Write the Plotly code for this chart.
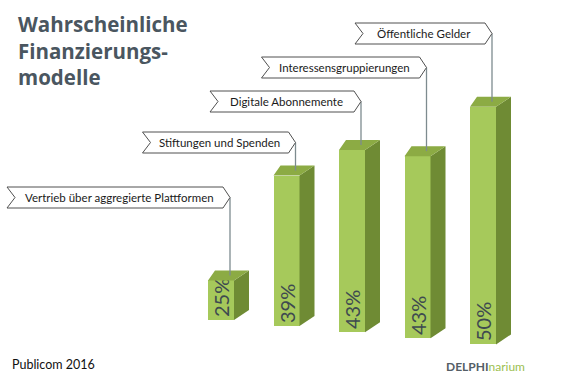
import plotly.graph_objects as go

# ---------------- data ----------------
categories = [
    "Vertrieb über aggregierte Plattformen",
    "Stiftungen und Spenden",
    "Digitale Abonnemente",
    "Interessensgruppierungen",
    "Öffentliche Gelder",
]
values = [25, 39, 43, 43, 50]
value_labels = ["25%", "39%", "43%", "43%", "50%"]
axis_min = 20
title_lines = ["Wahrscheinliche", "Finanzierungs-", "modelle"]
source_text = "Publicom 2016"

# ---------------- layout / style constants ----------------
W, H = 567, 378
X0_PX = 221.0      # pixel column of first category
SP_PX = 65.5       # pixels per category step
Y_PX = 320.0       # pixel row of axis_min for first category
PX_PER_PCT = 7.92  # vertical pixels per percent
TILT = 0.77        # perspective tilt of the floor (percent per category)
FRONT_W = 26 / SP_PX
DXR = 15 / SP_PX
DXL = 7 / SP_PX
DY = 10 / PX_PER_PCT
LEAD_OFF = 9 / SP_PX

FRONT = "#a6c95b"
SIDE = "#6f8b34"
TOP = "#8cab44"
TEXT_ON_BAR = "#3e4a50"

label_top_px = [187, 132, 91, 57, 23]
label_width_px = [223, 153, 151, 165, 137]
LABEL_H = 21
NOTCH = 8
POINT = 7


def px2x(p):
    return (p - X0_PX) / SP_PX


def py2y(p):
    return axis_min + (Y_PX - p) / PX_PER_PCT


idx = list(range(len(values)))
bases = [axis_min - TILT * i for i in idx]
tops = [v - TILT * i for v, i in zip(values, idx)]

fig = go.Figure()

# side faces and top faces
sx, sy, tx, ty = [], [], [], []
for i, b, t in zip(idx, bases, tops):
    xl = i - FRONT_W / 2
    xr = i + FRONT_W / 2
    sx += [xr, xr, xr + DXR, xr + DXR, xr, None]
    sy += [b, t, t + DY, b + DY, b, None]
    tx += [xl, xr, xr + DXR, xl + DXL, xl, None]
    ty += [t, t, t + DY, t + DY, t, None]

fig.add_trace(go.Scatter(x=sx, y=sy, mode="lines", fill="toself", fillcolor=SIDE,
                         line=dict(width=0, color=SIDE), hoverinfo="skip", showlegend=False))
fig.add_trace(go.Scatter(x=tx, y=ty, mode="lines", fill="toself", fillcolor=TOP,
                         line=dict(width=0, color=TOP), hoverinfo="skip", showlegend=False))

# front faces
fig.add_trace(go.Bar(
    x=idx, y=[v - axis_min for v in values], base=bases, width=FRONT_W,
    marker=dict(color=FRONT, line=dict(width=0)),
    text=value_labels, textposition="inside", insidetextanchor="start",
    textangle=-90, constraintext="none",
    textfont=dict(family="Lato", size=20, color=TEXT_ON_BAR),
    customdata=categories, hovertemplate="%{customdata}: %{text}<extra></extra>",
    showlegend=False, cliponaxis=False,
))

# leader lines + callout boxes
shapes = []
annotations = []
for i, t, ltop, lw, cat in zip(idx, tops, label_top_px, label_width_px, categories):
    lx = i + LEAD_OFF
    tip_px = X0_PX + SP_PX * lx
    mid_px = ltop + LABEL_H / 2
    fig.add_trace(go.Scatter(x=[lx, lx], y=[py2y(mid_px), t + DY * 0.5], mode="lines",
                             line=dict(color="#7d8b8f", width=1.3),
                             hoverinfo="skip", showlegend=False))
    L = tip_px - lw
    R = tip_px - POINT
    T = ltop
    B = ltop + LABEL_H
    pts = [(L, T), (R, T), (tip_px, mid_px), (R, B), (L, B), (L + NOTCH, mid_px)]
    path = "M " + " L ".join(f"{px2x(a):.4f},{py2y(c):.4f}" for a, c in pts) + " Z"
    shapes.append(dict(type="path", path=path, xref="x", yref="y",
                       line=dict(color="#505050", width=1), fillcolor="white", layer="above"))
    annotations.append(dict(x=px2x((L + NOTCH + R) / 2), y=py2y(mid_px), xref="x", yref="y",
                            text=cat, showarrow=False, xanchor="center", yanchor="middle",
                            font=dict(family="Lato", size=11.5, color="#1a1a1a")))

# title
annotations.append(dict(x=16 / W, y=1 - 8 / H, xref="paper", yref="paper",
                        text="<br>".join(title_lines), showarrow=False,
                        xanchor="left", yanchor="top", align="left",
                        font=dict(family="Open Sans", size=20.5, color="#4a5660", weight="bold")))
# source
annotations.append(dict(x=10 / W, y=1 - 364 / H, xref="paper", yref="paper",
                        text=source_text, showarrow=False, xanchor="left", yanchor="middle",
                        font=dict(family="Lato", size=12.5, color="#111111")))
annotations.append(dict(x=444 / W, y=1 - 366 / H, xref="paper", yref="paper",
                        text="<b>DELPHI</b><span style='color:#9cc050'>narium</span>",
                        showarrow=False, xanchor="left", yanchor="middle",
                        font=dict(family="Lato", size=12, color="#545e66")))

fig.update_layout(
    width=W, height=H,
    margin=dict(l=0, r=0, t=0, b=0),
    paper_bgcolor="white", plot_bgcolor="white",
    xaxis=dict(range=[px2x(0), px2x(W)], visible=False, fixedrange=True),
    yaxis=dict(range=[py2y(H), py2y(0)], visible=False, fixedrange=True),
    shapes=shapes, annotations=annotations,
    bargap=0, showlegend=False,
)

fig.write_html(
    "out.html",
    config={"displayModeBar": False},
    post_script="document.body.style.margin='0';document.body.style.overflow='hidden';",
)
